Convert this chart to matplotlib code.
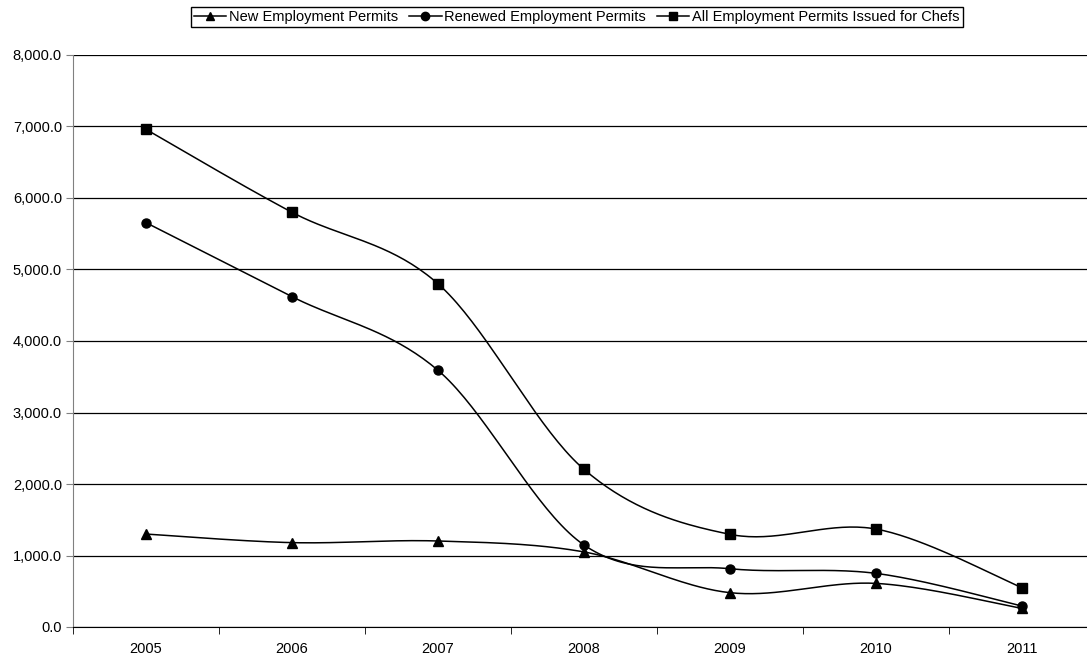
import matplotlib
matplotlib.use("Agg")
import matplotlib.pyplot as plt
from matplotlib.ticker import FuncFormatter, FixedLocator
import numpy as np

years = ["2005", "2006", "2007", "2008", "2009", "2010", "2011"]
new_permits = [1300, 1180, 1203, 1050, 480, 610, 260]
renewed_permits = [5655, 4620, 3590, 1147, 815, 750, 294]
all_permits = [6960, 5800, 4800, 2205, 1296, 1370, 550]

plt.rcParams['font.family'] = ['Liberation Sans', 'DejaVu Sans']


def smooth(xs, ys, n=40):
    # Excel-style smoothed line: Catmull-Rom via cubic Bezier segments
    xs = np.asarray(xs, float)
    ys = np.asarray(ys, float)
    px = np.concatenate([[xs[0]], xs, [xs[-1]]])
    py = np.concatenate([[ys[0]], ys, [ys[-1]]])
    out_x, out_y = [], []
    t = np.linspace(0, 1, n)
    for i in range(1, len(px) - 2):
        p0 = np.array([px[i], py[i]])
        p3 = np.array([px[i + 1], py[i + 1]])
        c1 = p0 + (np.array([px[i + 1], py[i + 1]]) - np.array([px[i - 1], py[i - 1]])) / 6
        c2 = p3 - (np.array([px[i + 2], py[i + 2]]) - np.array([px[i], py[i]])) / 6
        pts = ((1 - t) ** 3)[:, None] * p0 + (3 * (1 - t) ** 2 * t)[:, None] * c1 \
            + (3 * (1 - t) * t ** 2)[:, None] * c2 + (t ** 3)[:, None] * p3
        out_x.extend(pts[:, 0])
        out_y.extend(pts[:, 1])
    return out_x, out_y


fig = plt.figure(figsize=(10.87, 6.62), dpi=100)
ax = fig.add_axes([73 / 1087, 35 / 662, 1022 / 1087, 572 / 662])

x = np.arange(len(years)) + 0.5
series = [
    (new_permits, "^", "New Employment Permits"),
    (renewed_permits, "o", "Renewed Employment Permits"),
    (all_permits, "s", "All Employment Permits Issued for Chefs"),
]
for vals, marker, label in series:
    sx, sy = smooth(x, vals)
    ax.plot(sx, sy, color="black", lw=1.1, zorder=3)
    ax.plot(x, vals, linestyle="none", marker=marker, color="black", ms=6.5, zorder=4)
    ax.plot([], [], color="black", lw=1.1, marker=marker, ms=6, label=label)

ax.set_xlim(0, len(years))
ax.set_ylim(0, 8000)
ax.set_yticks(np.arange(0, 8001, 1000))
ax.yaxis.set_major_formatter(FuncFormatter(lambda v, p: f"{v:,.1f}"))
ax.yaxis.grid(True, color="black", lw=0.9)
ax.set_axisbelow(True)

ax.set_xticks(x)
ax.set_xticklabels(years)
ax.xaxis.set_minor_locator(FixedLocator(np.arange(0, len(years) + 1)))
ax.tick_params(axis="x", which="major", length=0, pad=11)
ax.tick_params(axis="x", which="minor", length=5, direction="out", color="black")
ax.tick_params(axis="y", length=5, direction="out", color="#808080", pad=3)
ax.tick_params(labelsize=10.5)

for side in ["top", "right"]:
    ax.spines[side].set_visible(False)
ax.spines["left"].set_color("#808080")
ax.spines["bottom"].set_color("black")

fig.legend(loc="upper center", bbox_to_anchor=(577 / 1087, 1 - 7 / 662), ncol=3,
           frameon=True, fancybox=False, edgecolor="black", framealpha=1,
           fontsize=10.5, handlelength=2.2, handletextpad=0.2, columnspacing=0.75,
           borderpad=0.2, borderaxespad=0)

fig.savefig("out.png", dpi=100)
